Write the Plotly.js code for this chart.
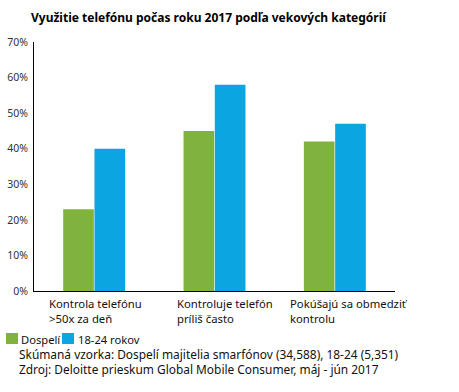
<!DOCTYPE html>
<html><head><meta charset="utf-8">
<script src="https://cdn.plot.ly/plotly-3.0.1.min.js"></script>
<style>body{margin:0;padding:0;background:#fff}#chart{width:459px;height:392px}</style>
</head><body><div id="chart"></div>
<script>
const categories = ["Kontrola telefónu", "Kontroluje telefón", "Pokúšajú sa obmedziť"];
const categoryLabels = ["Kontrola telefónu<br>>50x za deň", "Kontroluje telefón<br>príliš často", "Pokúšajú sa obmedziť<br>kontrolu"];
const dospeli = [0.23, 0.45, 0.42];
const mladi = [0.40, 0.58, 0.47];
const seriesNames = ["Dospelí", "18-24 rokov"];
const seriesColors = ["#80B33E", "#0BA5E2"];
const titleText = "Využitie telefónu počas roku 2017 podľa vekových kategórií";
const noteLines = ["Skúmaná vzorka: Dospelí majitelia smarfónov (34,588), 18-24 (5,351)", "Zdroj: Deloitte prieskum Global Mobile Consumer, máj - jún 2017"];

const font = "Noto Sans, Open Sans, sans-serif";
const W = 459, H = 392, M = {l: 34, r: 64, t: 42, b: 101};
const pw = W - M.l - M.r, ph = H - M.t - M.b;
const px = x => (x - M.l) / pw;
const py = y => (H - M.b - y) / ph;
const labelShifts = [-47, -40, -47];

const data = [
  {type: "bar", x: categories, y: dospeli, name: seriesNames[0], marker: {color: seriesColors[0]}, showlegend: false},
  {type: "bar", x: categories, y: mladi, name: seriesNames[1], marker: {color: seriesColors[1]}, showlegend: false}
];

const annotations = categories.map((c, i) => ({
  x: c, xref: "x", y: 0, yref: "paper", yshift: -3, xanchor: "left", yanchor: "top",
  xshift: labelShifts[i], align: "left", showarrow: false,
  text: categoryLabels[i], font: {family: font, size: 11.3, color: "#111"}
}));
noteLines.forEach((t, i) => annotations.push({
  x: px(17), xref: "paper", y: py(354 + 15 * i), yref: "paper", xanchor: "left", yanchor: "middle",
  text: t, showarrow: false, font: {family: font, size: 11.9, color: "#111"}
}));
// legend entries
const legX = [[6, 19], [62, 76]];
const shapes = [];
seriesNames.forEach((n, i) => {
  shapes.push({type: "rect", xref: "paper", yref: "paper", x0: px(legX[i][0]), x1: px(legX[i][0] + 12), y0: py(344), y1: py(333), fillcolor: seriesColors[i], line: {width: 0}});
  annotations.push({x: px(legX[i][1]), xref: "paper", y: py(339), yref: "paper", xanchor: "left", yanchor: "middle", text: n, showarrow: false, font: {family: font, size: 11.2, color: "#111"}});
});

const layout = {
  width: W, height: H, margin: M,
  paper_bgcolor: "#fff", plot_bgcolor: "#fff",
  title: {text: "<b>" + titleText + "</b>", xref: "container", x: 31 / W, xanchor: "left", yref: "container", y: 1 - 18 / H, yanchor: "middle", font: {family: font, size: 12, color: "#000"}},
  barmode: "group", bargap: 0.48, bargroupgap: 0.02,
  showlegend: false,
  xaxis: {range: [-0.5, 2.5], autorange: false, showticklabels: false, showline: true, linecolor: "#000", linewidth: 1, ticks: "", automargin: false, fixedrange: true},
  yaxis: {range: [0, 0.7], autorange: false, dtick: 0.1, tickformat: ".0%", showline: true, linecolor: "#000", linewidth: 1, showgrid: false, zeroline: false, ticks: "", automargin: false, ticklabelstandoff: 3, tickfont: {family: font, size: 10.5, color: "#333"}},
  annotations: annotations, shapes: shapes
};
Plotly.newPlot("chart", data, layout, {displayModeBar: false, staticPlot: true});
</script></body></html>
